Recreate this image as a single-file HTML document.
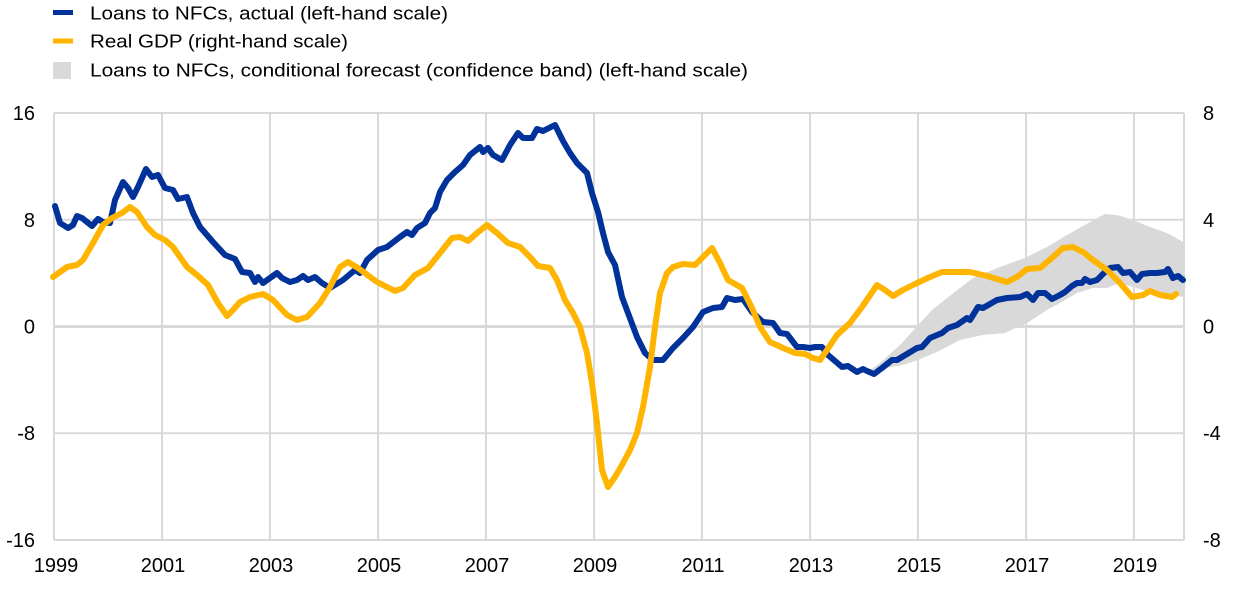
<!DOCTYPE html>
<html>
<head>
<meta charset="utf-8">
<style>
  html, body { margin:0; padding:0; background:#fff; }
  svg { display:block; }
  text { font-family: "Liberation Sans", Arial, sans-serif; fill:#000; }
</style>
</head>
<body>
<svg width="1240" height="594" viewBox="0 0 1240 594" xmlns="http://www.w3.org/2000/svg">
  <!-- Legend -->
  <rect x="53" y="10" width="20" height="5" fill="#003299"/>
  <text x="90" y="19.5" font-size="18.5" textLength="358" lengthAdjust="spacingAndGlyphs">Loans to NFCs, actual (left-hand scale)</text>
  <rect x="53" y="38.5" width="20" height="5" fill="#FFB400"/>
  <text x="90" y="47.5" font-size="18.5" textLength="258" lengthAdjust="spacingAndGlyphs">Real GDP (right-hand scale)</text>
  <rect x="53" y="62" width="18" height="17" fill="#D9D9D9"/>
  <text x="90" y="76.5" font-size="18.5" textLength="658" lengthAdjust="spacingAndGlyphs">Loans to NFCs, conditional forecast (confidence band) (left-hand scale)</text>

  <!-- Gridlines -->
  <g stroke="#D9D9D9" stroke-width="2" fill="none">
    <line x1="54" y1="113" x2="1184" y2="113"/>
    <line x1="54" y1="219.7" x2="1184" y2="219.7"/>
    <line x1="54" y1="433.2" x2="1184" y2="433.2"/>
    <line x1="54" y1="540" x2="1184" y2="540"/>
    <line x1="54" y1="113" x2="54" y2="540"/>
    <line x1="162" y1="113" x2="162" y2="540"/>
    <line x1="270" y1="113" x2="270" y2="540"/>
    <line x1="378" y1="113" x2="378" y2="540"/>
    <line x1="486" y1="113" x2="486" y2="540"/>
    <line x1="594" y1="113" x2="594" y2="540"/>
    <line x1="702" y1="113" x2="702" y2="540"/>
    <line x1="810" y1="113" x2="810" y2="540"/>
    <line x1="918" y1="113" x2="918" y2="540"/>
    <line x1="1026" y1="113" x2="1026" y2="540"/>
    <line x1="1134" y1="113" x2="1134" y2="540"/>
    <line x1="1184" y1="113" x2="1184" y2="540"/>
  </g>
  <line x1="54" y1="326.5" x2="1184" y2="326.5" stroke="#D9D9D9" stroke-width="3"/>

  <!-- Confidence band -->
  <polygon fill="#D9D9D9" points="870,370 880,363 900,345 920,323 932,310 947,298 960,288 973,278 1000,267 1027,257 1047,247 1067,235 1090,222 1105,214 1117,215 1133,220 1150,227 1167,233 1185,243 1185,297 1167,295 1150,292 1133,287 1120,283 1107,288 1093,288 1077,293 1060,303 1047,310 1027,323 1005,333 983,335 960,340 937,352 918,360 903,365 880,369"/>

  <!-- Loans (blue) -->
  <polyline fill="none" stroke="#003299" stroke-width="6" stroke-linejoin="round" stroke-linecap="round" points="55,206 60,223 68,228 73,225 77,216 82,218 92,226 98,219 103,222 110,223 115,200 123,182 128,188 133,197 138,187 146,169 152,177 158,175 165,188 173,190 178,199 187,197 193,213 200,227 213,242 225,255 235,259 242,272 250,273 255,282 258,277 263,283 277,273 282,278 290,282 297,280 303,276 308,280 315,277 322,283 330,288 343,280 355,270 360,273 367,260 378,250 387,247 400,237 407,232 412,235 417,228 425,223 430,213 435,208 440,192 447,180 455,172 463,165 470,155 480,147 483,152 488,148 493,155 502,160 510,145 518,133 523,138 532,138 537,129 543,131 555,125 563,141 570,153 577,163 587,173 592,193 598,212 603,233 608,252 615,265 622,297 628,313 637,337 645,353 653,360 663,360 673,348 683,338 693,327 703,312 713,308 722,307 727,298 735,300 743,299 752,312 763,322 773,323 780,333 787,334 797,347 803,347 810,348 815,347 822,347 828,355 842,367 848,366 857,372 863,369 867,371 874,374 882,368 892,360 897,360 917,348 922,347 930,338 942,333 948,328 957,325 967,318 970,320 978,307 983,308 997,300 1007,298 1020,297 1027,294 1033,300 1038,293 1045,293 1052,299 1060,295 1065,292 1072,286 1077,283 1082,283 1085,279 1090,282 1097,280 1105,272 1110,268 1118,267 1123,273 1130,272 1137,280 1142,274 1150,273 1157,273 1165,272 1168,269 1173,278 1178,276 1183,280"/>

  <!-- Real GDP (yellow) -->
  <polyline fill="none" stroke="#FFB400" stroke-width="6" stroke-linejoin="round" stroke-linecap="round" points="53,277 67,267 77,265 83,260 93,243 103,225 112,218 122,213 130,207 137,212 147,227 155,235 165,240 173,247 187,267 197,275 208,285 218,303 227,316 233,310 240,302 250,297 263,294 273,300 287,315 297,320 307,317 320,303 330,287 340,267 348,262 358,268 377,282 395,291 403,288 415,275 428,268 440,253 452,238 460,237 468,241 477,233 487,225 497,233 508,243 520,247 530,257 538,266 550,268 557,280 565,300 573,313 580,327 587,353 592,383 597,423 602,470 608,487 615,477 622,465 630,450 637,433 643,407 650,367 655,327 660,293 667,273 673,267 683,264 695,265 703,257 712,248 720,263 728,280 742,288 752,308 760,327 770,342 783,348 795,353 805,354 813,358 820,360 827,350 837,335 850,323 862,307 877,285 885,290 893,296 903,290 917,283 930,277 942,272 970,272 987,276 1007,282 1017,277 1027,269 1040,268 1053,257 1063,248 1073,247 1083,252 1093,260 1107,270 1120,283 1132,297 1143,295 1150,291 1160,295 1172,297 1176,294"/>

  <!-- Left axis labels -->
  <g font-size="20" text-anchor="end">
    <text x="35" y="120">16</text>
    <text x="35" y="227">8</text>
    <text x="35" y="333.5">0</text>
    <text x="35" y="440">-8</text>
    <text x="35" y="547">-16</text>
  </g>
  <!-- Right axis labels -->
  <g font-size="20" text-anchor="start">
    <text x="1203" y="120">8</text>
    <text x="1203" y="227">4</text>
    <text x="1203" y="333.5">0</text>
    <text x="1203" y="440">-4</text>
    <text x="1203" y="547">-8</text>
  </g>
  <!-- X axis labels -->
  <g font-size="20" text-anchor="middle">
    <text x="56" y="572">1999</text>
    <text x="163" y="572">2001</text>
    <text x="271" y="572">2003</text>
    <text x="379" y="572">2005</text>
    <text x="487" y="572">2007</text>
    <text x="595" y="572">2009</text>
    <text x="703" y="572">2011</text>
    <text x="811" y="572">2013</text>
    <text x="919" y="572">2015</text>
    <text x="1027" y="572">2017</text>
    <text x="1135" y="572">2019</text>
  </g>
</svg>
</body>
</html>
